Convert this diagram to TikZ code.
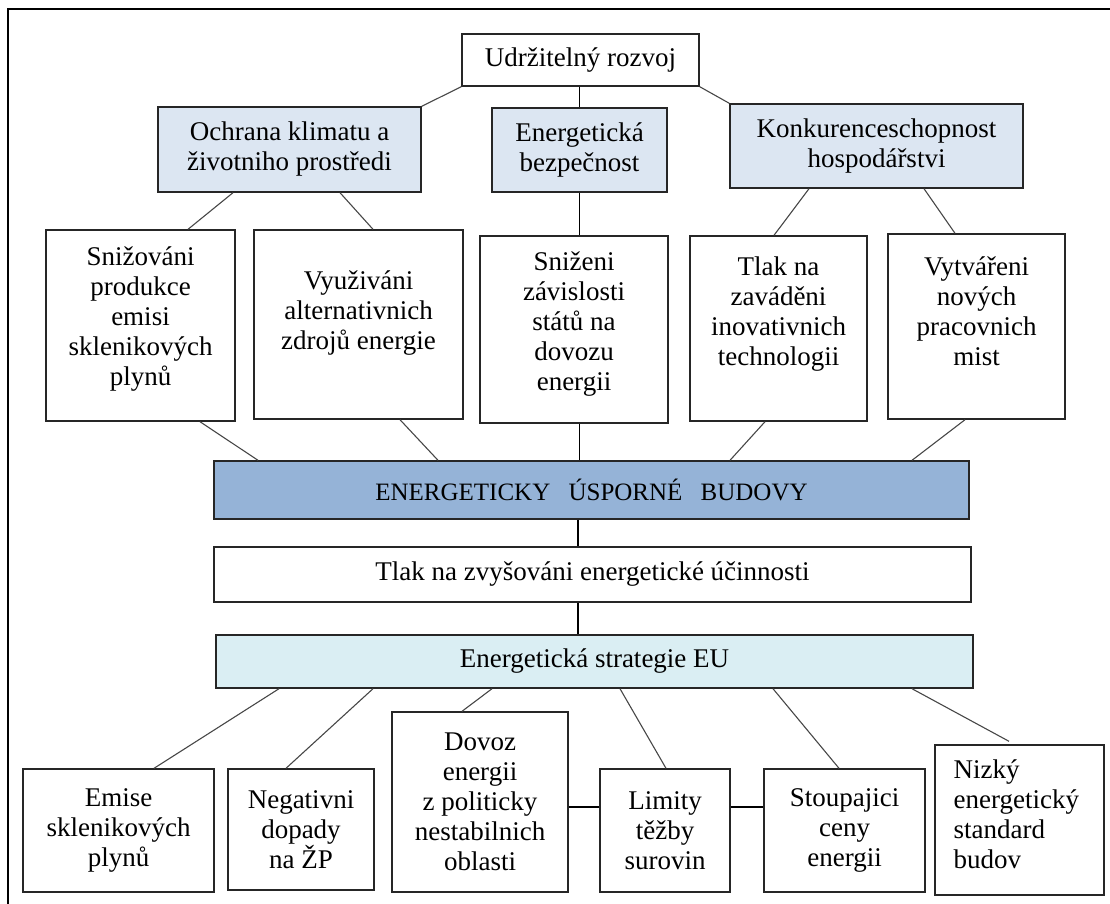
\documentclass[tikz,border=0pt]{standalone}
\usepackage{fontspec}
\setmainfont{Liberation Serif}
\definecolor{paleblue}{HTML}{DCE6F2}
\definecolor{midblue}{HTML}{95B3D7}
\definecolor{paleaqua}{HTML}{DAEEF3}
\begin{document}
\begin{tikzpicture}[x=1pt,y=-1pt,
  box/.style={draw=black!85, line width=1.4pt, inner sep=0pt, align=center,
    font=\fontsize{27}{30}\selectfont},
  txt/.style={inner sep=0pt, align=center, font=\fontsize{27}{30}\selectfont},
  link/.style={draw=black!72, line width=1.1pt},
  vlink/.style={draw=black, line width=1.2pt}]
\useasboundingbox (0,0) rectangle (1110,903);
\clip (0,0) rectangle (1110,903);
% outer frame (runs off the right and bottom edges)
\draw[line width=1.6pt] (1130,9) -- (8,9) -- (8,930);

% top level
\node[box, minimum width=237pt, minimum height=52pt] (udr) at (580.5,60) {Udržitelný rozvoj};
\node[box, fill=paleblue, minimum width=263pt, minimum height=85pt] (ochrana) at (289.5,149.5)
  {Ochrana klimatu a\\životniho prostředi};
\node[box, fill=paleblue, minimum width=175pt, minimum height=84pt] (eb) at (579.5,150)
  {Energetická\\bezpečnost};
\node[box, fill=paleblue, minimum width=293pt, minimum height=84pt] (konk) at (876.5,146)
  {Konkurenceschopnost\\hospodářstvi};

% second row
\node[box, minimum width=189pt, minimum height=191pt] (b1) at (140.5,325.5) {};
\node[txt] (b1t) at (140.5,319) {Snižováni\\produkce\\emisi\\sklenikových\\plynů};
\node[box, minimum width=209pt, minimum height=189pt] (b2) at (358.5,324.5) {};
\node[txt] (b2t) at (358.5,313.5) {Využiváni\\alternativnich\\zdrojů energie};
\node[box, minimum width=188pt, minimum height=187pt] (b3) at (574,329.5) {};
\node[txt] (b3t) at (574,324.5) {Sniženi\\závislosti\\států na\\dovozu\\energii};
\node[box, minimum width=177pt, minimum height=185pt] (b4) at (778.5,328.5) {};
\node[txt] (b4t) at (778.5,314) {Tlak na\\zaváděni\\inovativnich\\technologii};
\node[box, minimum width=177pt, minimum height=185pt] (b5) at (976.5,326.5) {};
\node[txt] (b5t) at (976.5,311) {Vytvářeni\\nových\\pracovnich\\mist};

% central column
\node[box, fill=midblue, minimum width=755pt, minimum height=58pt,
  font=\fontsize{25}{30}\selectfont] (energ) at (591.5,490)
  {ENERGETICKY\hspace{12pt} ÚSPORNÉ\hspace{12pt} BUDOVY};
\node[box, minimum width=757pt, minimum height=55pt] (tlak) at (592.5,574.5)
  {Tlak na zvyšováni energetické účinnosti};
\node[box, fill=paleaqua, minimum width=757pt, minimum height=53pt] (eu) at (594.5,661.5)
  {Energetická strategie EU};

% bottom row
\node[box, minimum width=191pt, minimum height=123pt] (emise) at (118.5,830.5)
  {Emise\\sklenikových\\plynů};
\node[box, minimum width=146pt, minimum height=121pt] (neg) at (301,829.5)
  {Negativni\\dopady\\na ŽP};
\node[box, minimum width=176pt, minimum height=180pt] (dovoz) at (480,802)
  {Dovoz\\energii\\z politicky\\nestabilnich\\oblasti};
\node[box, minimum width=130pt, minimum height=123pt] (lim) at (665,830.5)
  {Limity\\těžby\\surovin};
\node[box, minimum width=161pt, minimum height=123pt] (stoup) at (844.5,830.5)
  {Stoupajici\\ceny\\energii};
\node[box, minimum width=169pt, minimum height=150pt] (niz) at (1019.5,820) {};
\node[txt, align=left, anchor=west] (nizt) at (953.5,814)
  {Nizký\\energetický\\standard\\budov};

% connectors, top part
\draw[link] (udr.south west) -- (ochrana.north east);
\draw[link] (udr.south east) -- (konk.north west);
\draw[vlink] (eb.north |- udr.south) -- (eb.north);
\draw[link] ([xshift=-56.5pt]ochrana.south) -- ([xshift=47.5pt]b1.north);
\draw[link] ([xshift=50.5pt]ochrana.south) -- ([xshift=14.5pt]b2.north);
\draw[vlink] (eb.south) -- (eb.south |- b3.north);
\draw[link] ([xshift=-67.5pt]konk.south) -- ([xshift=-4.5pt]b4.north);
\draw[link] ([xshift=47.5pt]konk.south) -- ([xshift=-21.5pt]b5.north);

% connectors into the central column
\draw[link] ([xshift=59.5pt]b1.south) -- ([xshift=-333.5pt]energ.north);
\draw[link] ([xshift=41.5pt]b2.south) -- ([xshift=-153.5pt]energ.north);
\draw[vlink] (eb.south |- b3.south) -- (eb.south |- energ.north);
\draw[link] ([xshift=-13.5pt]b4.south) -- ([xshift=138.5pt]energ.north);
\draw[link] ([xshift=-11.5pt]b5.south) -- ([xshift=320.5pt]energ.north);
\coordinate (axisA) at ([xshift=-14.5pt]tlak.north);
\draw[vlink] (axisA |- energ.south) -- (axisA);
\coordinate (axisB) at ([xshift=-14.5pt]tlak.south);
\draw[vlink] (axisB) -- (axisB |- eu.north);

% connectors, bottom part
\draw[link] ([xshift=-315.5pt]eu.south) -- ([xshift=35.5pt]emise.north);
\draw[link] ([xshift=-221.5pt]eu.south) -- ([xshift=-15pt]neg.north);
\draw[link] ([xshift=-102.5pt]eu.south) -- ([xshift=-18pt]dovoz.north);
\draw[link] ([xshift=25.5pt]eu.south) -- ([xshift=1pt]lim.north);
\draw[link] ([xshift=178.5pt]eu.south) -- ([xshift=-5.5pt]stoup.north);
\draw[link] ([xshift=317.5pt]eu.south) -- ([xshift=-10.5pt,yshift=3pt]niz.north);
\coordinate (rowL) at ([yshift=23.5pt]lim.west);
\draw[vlink] (rowL -| dovoz.east) -- (rowL);
\coordinate (rowR) at ([yshift=23.5pt]lim.east);
\draw[vlink] (rowR) -- (rowR -| stoup.west);
\end{tikzpicture}
\end{document}
